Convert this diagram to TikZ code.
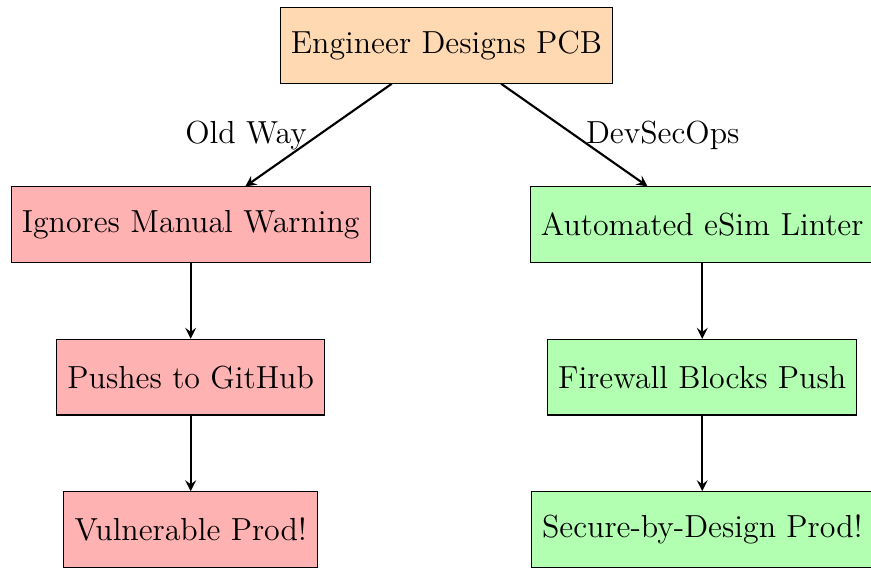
\documentclass[tikz,border=0pt,12pt]{standalone}
\usepackage{amsfonts, amssymb, amsmath}
\usepackage{tikz}
\usetikzlibrary{positioning}

\begin{document}
\begin{tikzpicture}[
    box/.style={draw, minimum height=1cm},
    flow/.style={thick, ->, >=stealth}
]
    \useasboundingbox (-5.9, 0.6) rectangle (5.61, -6.907);

    % Start
    \node[box, fill=orange!30] (pcb) at (0, 0) {Engineer Designs PCB};

    % Old Way
    \node[box, fill=red!30] (ignore) at (-3.38, -2.37) {Ignores Manual Warning};
    \node[box, fill=red!30, below=of ignore] (push) {Pushes to GitHub};
    \node[box, fill=red!30, below=of push] (vuln) {Vulnerable Prod!};

    % DevSecOps
    \node[box, fill=green!30] (lint) at (3.38, -2.37) {Automated eSim Linter};
    \node[box, fill=green!30, below=of lint] (block) {Firewall Blocks Push};
    \node[box, fill=green!30, below=of block] (secure) {Secure-by-Design Prod!};

    \draw[flow] (pcb) -- node[midway, left] {Old Way} (ignore);
    \draw[flow] (ignore) -- (push);
    \draw[flow] (push) -- (vuln);

    \draw[flow] (pcb) -- node[midway, right] {DevSecOps} (lint);
    \draw[flow] (lint) -- (block);
    \draw[flow] (block) -- (secure);
\end{tikzpicture}
\end{document}
